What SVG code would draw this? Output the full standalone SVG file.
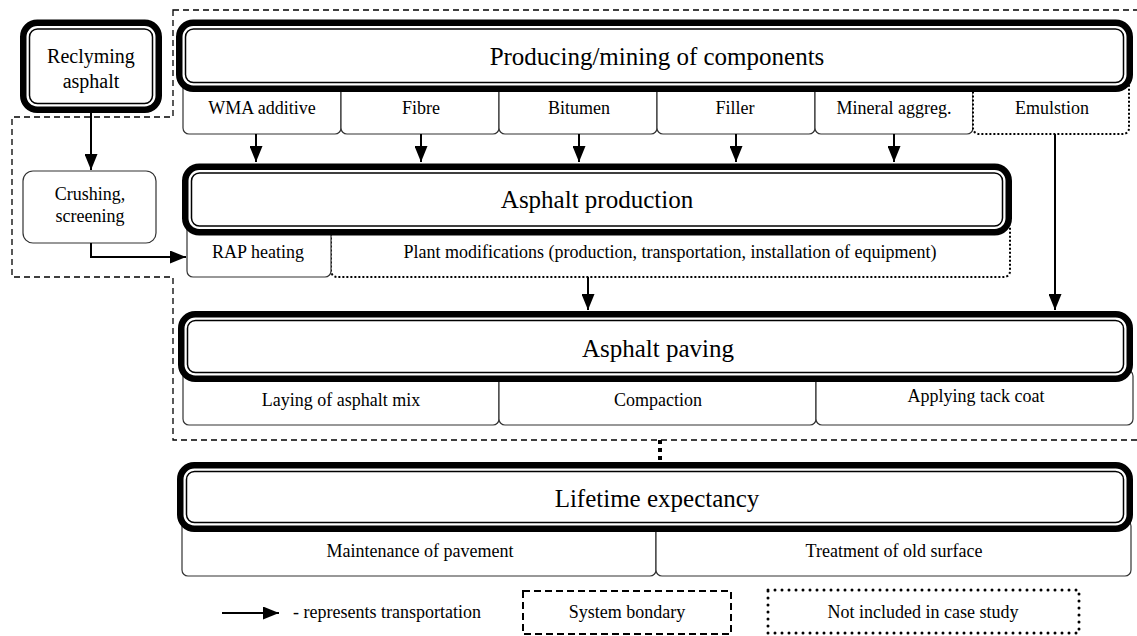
<svg xmlns="http://www.w3.org/2000/svg" width="1137" height="636" viewBox="0 0 1137 636">
<style>
text{font-family:"Liberation Serif","Times New Roman",serif;fill:#000;text-anchor:middle}
.t{font-size:25px}
.s{font-size:18px}
.r{font-size:20px}
.thick{fill:#fff;stroke:#000;stroke-width:6.5}
.inner{fill:none;stroke:#000;stroke-width:1.5}
.sub{fill:#fff;stroke:#333;stroke-width:1.2}
.dot{fill:#fff;stroke:#000;stroke-width:2;stroke-dasharray:2 2}
.bound{fill:none;stroke:#000;stroke-width:1.3;stroke-dasharray:6 4}
.arr{fill:none;stroke:#000;stroke-width:2;marker-end:url(#ah)}
</style>
<defs>
<marker id="ah" viewBox="0 0 16 13" refX="16" refY="6.5" markerWidth="16" markerHeight="13" markerUnits="userSpaceOnUse" orient="auto">
<path d="M0,0 L16,6.5 L0,13 z" fill="#000"/>
</marker>
</defs>
<rect width="1137" height="636" fill="#fff"/>
<g id="system-boundary">
<path class="bound" d="M173,10 H1150 V440 H173 V277 H12 V117 H173 Z"/>
</g>
<g id="sub-wma"><rect class="sub" x="183" y="80" width="158" height="54" rx="6"/><text class="s" x="262" y="114">WMA additive</text></g>
<g id="sub-fibre"><rect class="sub" x="341" y="80" width="158" height="54" rx="6"/><text class="s" x="421" y="114">Fibre</text></g>
<g id="sub-bitumen"><rect class="sub" x="499" y="80" width="158" height="54" rx="6"/><text class="s" x="579" y="114">Bitumen</text></g>
<g id="sub-filler"><rect class="sub" x="657" y="80" width="158" height="54" rx="6"/><text class="s" x="735" y="114">Filler</text></g>
<g id="sub-mineral"><rect class="sub" x="815" y="80" width="158" height="54" rx="6"/><text class="s" x="894" y="114">Mineral aggreg.</text></g>
<g id="sub-emulsion"><rect class="dot" x="973" y="80" width="156" height="54" rx="6"/><text class="s" x="1052" y="114">Emulstion</text></g>
<g id="sub-plant"><rect class="dot" x="331" y="222" width="679" height="55" rx="6"/><text class="s" x="670" y="258">Plant modifications (production, transportation, installation of equipment)</text></g>
<g id="sub-rap"><rect class="sub" x="187" y="222" width="144" height="55" rx="6"/><text class="s" x="258" y="258">RAP heating</text></g>
<g id="sub-laying"><rect class="sub" x="183" y="370" width="316" height="55" rx="6"/><text class="s" x="341" y="406">Laying of asphalt mix</text></g>
<g id="sub-compaction"><rect class="sub" x="499" y="370" width="317" height="55" rx="6"/><text class="s" x="658" y="406">Compaction</text></g>
<g id="sub-tack"><rect class="sub" x="816" y="370" width="317" height="55" rx="6"/><text class="s" x="976" y="402">Applying tack coat</text></g>
<g id="sub-maintenance"><rect class="sub" x="182" y="520" width="474" height="56" rx="6"/><text class="s" x="420" y="557">Maintenance of pavement</text></g>
<g id="sub-treatment"><rect class="sub" x="656" y="520" width="475" height="56" rx="6"/><text class="s" x="894" y="557">Treatment of old surface</text></g>
<g id="reclyming">
<rect class="thick" x="23.25" y="22.75" width="135.5" height="87" rx="14"/>
<rect class="inner" x="29.5" y="29" width="123" height="74.5" rx="8"/>
<text class="r" x="91" y="63">Reclyming</text><text class="r" x="91" y="88">asphalt</text>
</g>
<g id="crushing">
<rect class="sub" x="23" y="171" width="133" height="72" rx="10"/>
<text class="s" x="90" y="200">Crushing,</text><text class="s" x="90" y="222">screening</text>
</g>
<g id="producing">
<rect class="thick" x="179.25" y="22.75" width="950.5" height="66" rx="14"/>
<rect class="inner" x="185.5" y="29" width="938" height="53.5" rx="8"/>
<text class="t" x="657" y="65">Producing/mining of components</text>
</g>
<g id="asphalt-production">
<rect class="thick" x="185.25" y="166.75" width="823.5" height="65.5" rx="14"/>
<rect class="inner" x="191.5" y="173" width="811" height="53" rx="8"/>
<text class="t" x="597" y="208">Asphalt production</text>
</g>
<g id="asphalt-paving">
<rect class="thick" x="181.25" y="314.25" width="948.5" height="64.5" rx="14"/>
<rect class="inner" x="187.5" y="320.5" width="936" height="52" rx="8"/>
<text class="t" x="658" y="357">Asphalt paving</text>
</g>
<g id="lifetime">
<rect class="thick" x="180.25" y="465.25" width="949.5" height="63.5" rx="14"/>
<rect class="inner" x="186.5" y="471.5" width="937" height="51" rx="8"/>
<text class="t" x="657" y="507">Lifetime expectancy</text>
</g>
<g id="connectors">
<path class="arr" d="M91,113 V170"/>
<path class="arr" d="M91,243 V257 H186"/>
<path class="arr" d="M256,134 V162"/>
<path class="arr" d="M421,134 V162"/>
<path class="arr" d="M579,134 V162"/>
<path class="arr" d="M736,134 V162"/>
<path class="arr" d="M894,134 V162"/>
<path class="arr" d="M588,277 V310"/>
<path class="arr" d="M1055,134 V310"/>
<path d="M660,440 V462" fill="none" stroke="#000" stroke-width="4" stroke-dasharray="4 4"/>
</g>
<g id="legend">
<path class="arr" d="M222,613 H279"/>
<text class="s" x="293" y="618" style="text-anchor:start">- represents transportation</text>
<rect x="523" y="591" width="208" height="43" fill="none" stroke="#000" stroke-width="2" stroke-dasharray="7 4"/>
<text class="s" x="627" y="618">System bondary</text>
<rect x="768" y="590" width="311" height="43" fill="none" stroke="#000" stroke-width="3" stroke-dasharray="0 7" stroke-linecap="round"/>
<text class="s" x="923" y="618">Not included in case study</text>
</g>
</svg>
